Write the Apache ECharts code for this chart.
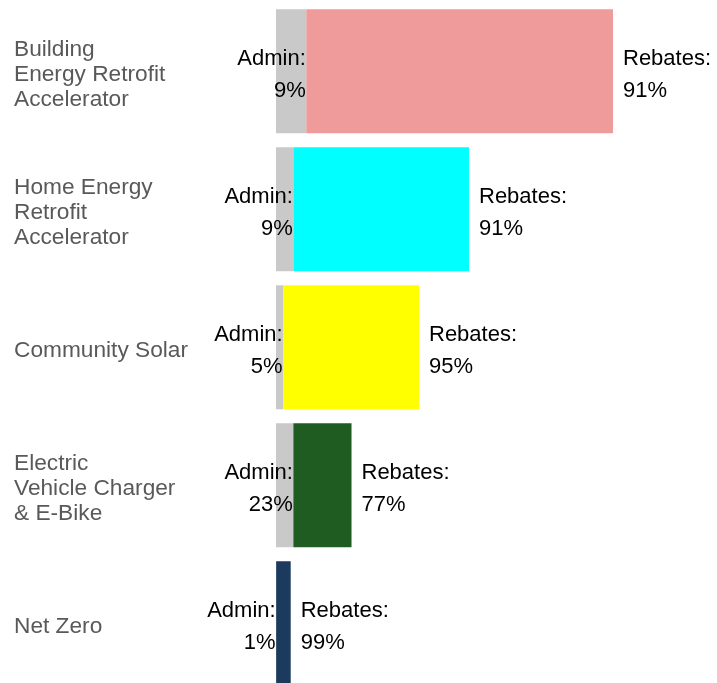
<!DOCTYPE html>
<html>
<head>
<meta charset="utf-8">
<script src="https://cdn.jsdelivr.net/npm/echarts@6/dist/echarts.min.js"></script>
<style>
  html, body { margin: 0; padding: 0; background: #fff; }
  #chart { width: 717px; height: 683px; }
</style>
</head>
<body>
<div id="chart"></div>
<script>
// programmes, top to bottom
var categories = [
    'Building\nEnergy Retrofit\nAccelerator',
    'Home Energy\nRetrofit\nAccelerator',
    'Community Solar',
    'Electric\nVehicle Charger\n& E-Bike',
    'Net Zero'
];
// total program size (relative units)
var totals = [337, 193, 143, 75.5, 14.7];
// share of each program going to admin, %
var adminPct = [9, 9, 5, 23, 1];
var rebateColors = ['#EF9A9B', '#00FFFF', '#FFFF00', '#1E5C22', '#1C3A5D'];

var adminVals = totals.map(function (t, i) { return t * adminPct[i] / 100; });
var rebateVals = totals.map(function (t, i) { return t - adminVals[i]; });

var font = '"Liberation Sans", Arial, sans-serif';

var chart = echarts.init(document.getElementById('chart'));
var option = {
    animation: false,
    grid: {
        left: 276, width: 441, top: 2.3, height: 690,
        containLabel: false,
        outerBoundsMode: 'none'
    },
    xAxis: {
        type: 'value',
        min: 0,
        max: 441,
        show: false
    },
    yAxis: {
        type: 'category',
        inverse: true,
        data: categories,
        axisLine: { show: false },
        axisTick: { show: false },
        splitLine: { show: false },
        axisLabel: {
            align: 'left',
            margin: 262,
            color: '#595959',
            fontSize: 22.7,
            lineHeight: 25,
            fontFamily: font,
            // small blank row on top pushes the text block down a bit
            formatter: function (v) {
                return '{s| }\n' + v.split('\n').map(function (l) {
                    return '{t|' + l + '}';
                }).join('\n');
            },
            rich: {
                s: { lineHeight: 6, height: 6, fontSize: 1 },
                t: { lineHeight: 25, fontSize: 22.7, color: '#595959', fontFamily: font }
            }
        }
    },
    series: [
        {
            name: 'Admin',
            type: 'bar',
            stack: 'total',
            barWidth: 124,
            itemStyle: { color: '#C9C9C9' },
            label: {
                show: true,
                position: 'insideRight',
                distance: 0.5,
                offset: [0, 3.5],
                align: 'right',
                color: '#000',
                fontSize: 22,
                lineHeight: 32,
                fontFamily: font,
                formatter: function (p) {
                    return 'Admin:\n' + adminPct[p.dataIndex] + '%';
                }
            },
            data: adminVals
        },
        {
            name: 'Rebates',
            type: 'bar',
            stack: 'total',
            barWidth: 124,
            label: {
                show: true,
                position: 'right',
                distance: 10,
                offset: [0, 3.5],
                align: 'left',
                color: '#000',
                fontSize: 22,
                lineHeight: 32,
                fontFamily: font,
                formatter: function (p) {
                    return 'Rebates:\n' + (100 - adminPct[p.dataIndex]) + '%';
                }
            },
            data: rebateVals.map(function (v, i) {
                return { value: v, itemStyle: { color: rebateColors[i] } };
            })
        }
    ]
};
chart.setOption(option);
window.onresize = function () {
    chart.resize();
};
</script>
</body>
</html>
